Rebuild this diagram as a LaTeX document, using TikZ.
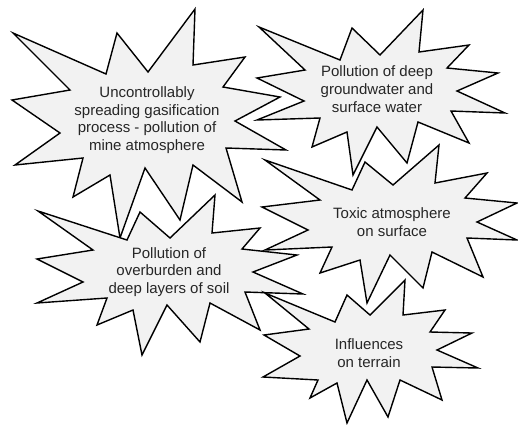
\documentclass[tikz,border=0pt]{standalone}
\usepackage{fontspec}
\setmainfont{Liberation Sans}
\definecolor{burstfill}{RGB}{242,242,242}
\definecolor{txt}{RGB}{38,38,38}
\tikzset{
  burst/.style={draw=black, fill=burstfill, line width=1.4pt, line join=miter, miter limit=20},
  bursttext/.style={align=center, text=txt, font=\fontsize{15pt}{17.7pt}\selectfont, inner sep=0pt}
}
\begin{document}
\begin{tikzpicture}[x=1pt,y=-1pt]
\useasboundingbox (0,0) rectangle (518,424);
% A
\draw[burst] (13,33) -- (106,74) -- (117,33) -- (148,72) -- (195,9) -- (193,65) -- (245,57) -- (223,87) -- (280,97) -- (235,121) -- (286,150) -- (226,148) -- (242,202) -- (193,165) -- (180,220) -- (145,168) -- (120,238) -- (110,175) -- (73,197) -- (83,158) -- (15,165) -- (60,133) -- (12,100) -- (70,90) -- cycle;
% B
\draw[burst] (259,27) -- (340,60) -- (352,28) -- (380,55) -- (423,10) -- (419,52) -- (469,45) -- (447,68) -- (498,73) -- (457,91) -- (505,113) -- (451,111) -- (469,143) -- (418,122) -- (407,163) -- (377,127) -- (353,175) -- (347,132) -- (312,147) -- (320,118) -- (257,120) -- (304,101) -- (257,78) -- (305,70) -- cycle;
% C
\draw[burst] (265,160) -- (352,190) -- (365,162) -- (393,185) -- (439,145) -- (435,183) -- (487,173) -- (465,198) -- (517,203) -- (477,222) -- (517,240) -- (467,238) -- (483,277) -- (432,252) -- (423,288) -- (390,255) -- (367,303) -- (360,260) -- (320,273) -- (332,247) -- (265,250) -- (308,230) -- (262,207) -- (320,200) -- cycle;
% D
\draw[burst] (38,211) -- (127,240) -- (140,212) -- (170,238) -- (215,195) -- (212,233) -- (260,228) -- (242,249) -- (297,255) -- (253,272) -- (303,294) -- (245,292) -- (260,330) -- (210,303) -- (200,342) -- (167,305) -- (142,355) -- (133,310) -- (97,325) -- (107,298) -- (37,303) -- (83,282) -- (37,259) -- (93,250) -- cycle;
% E
\draw[burst] (265,293) -- (335,322) -- (347,295) -- (370,315) -- (405,280) -- (403,315) -- (445,310) -- (430,332) -- (472,333) -- (437,350) -- (478,368) -- (432,367) -- (442,400) -- (400,380) -- (388,417) -- (367,380) -- (347,423) -- (337,383) -- (310,398) -- (318,380) -- (263,377) -- (300,356) -- (264,335) -- (309,329) -- cycle;
% texts
\node[bursttext] (ta) at (147,120) {Uncontrollably\\spreading gasification\\process - pollution of\\mine atmosphere};
\node[bursttext] (tb) at (377,89) {Pollution of deep\\groundwater and\\surface water};
\node[bursttext] (tc) at (392,222) {Toxic atmosphere\\on surface};
\node[bursttext] (td) at (169,272) {Pollution of\\overburden and\\deep layers of soil};
\node[bursttext] (te) at (369,353) {Influences\\on terrain};
\end{tikzpicture}
\end{document}
